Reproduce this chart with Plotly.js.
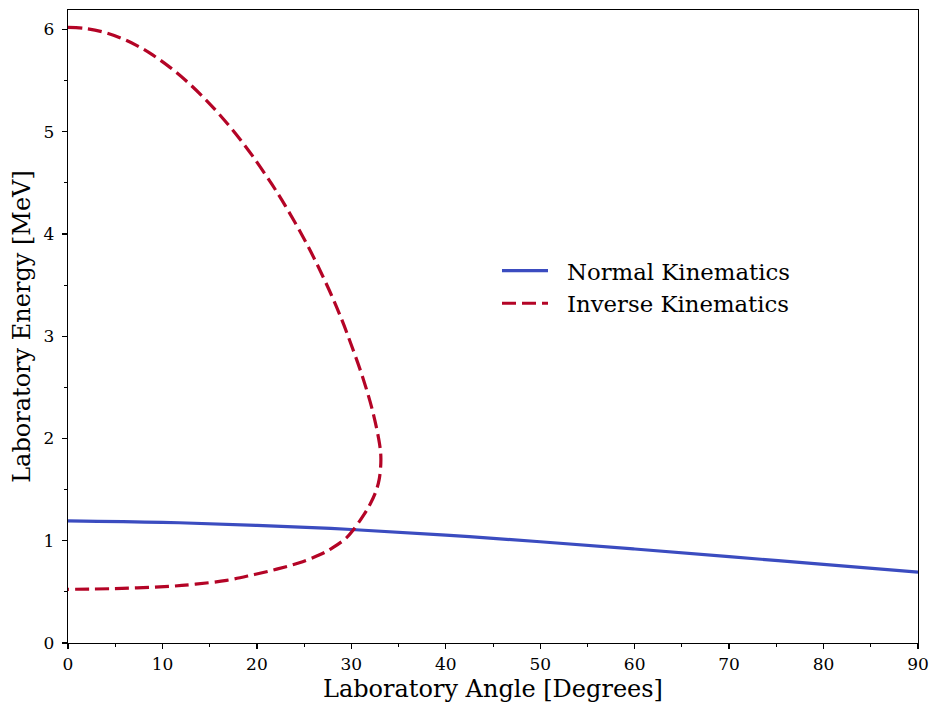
<!DOCTYPE html>
<html>
<head>
<meta charset="utf-8">
<script src="https://cdn.plot.ly/plotly-3.0.1.min.js"></script>
<style>html,body{margin:0;padding:0;background:#fff;}#chart{width:934px;height:709px;}</style>
</head>
<body>
<div id="chart"></div>
<script>
const normalAngle = [0, 10, 20, 30, 40, 50, 60, 70, 80, 90];
const normalEnergy = [1.195, 1.18, 1.15, 1.11, 1.055, 0.99, 0.919, 0.845, 0.768, 0.693];

const inverseAngle = [0, 1.8, 3.7, 5.5, 7.3, 9.0, 10.8, 12.5, 14.3, 16.0, 17.9, 19.5, 21.6, 23.0, 24.8, 26.2, 27.7, 29.0, 30.0, 31.16, 32.22, 32.98, 33.13, 32.95, 32.55, 32.0, 31.3, 30.2, 29.5, 28.0, 26.7, 24.5, 22.1, 19.5, 16.8, 13.5, 10.8, 5.0, 0];
const inverseEnergy = [6.02, 6.009, 5.975, 5.919, 5.842, 5.748, 5.629, 5.498, 5.34, 5.172, 4.963, 4.768, 4.484, 4.277, 3.985, 3.736, 3.442, 3.159, 2.914, 2.61, 2.28, 1.95, 1.80, 1.60, 1.47, 1.36, 1.25, 1.105, 1.03, 0.93, 0.865, 0.785, 0.722, 0.665, 0.613, 0.575, 0.554, 0.532, 0.525];

const xTicks = [0, 10, 20, 30, 40, 50, 60, 70, 80, 90];
const yTicks = [0, 1, 2, 3, 4, 5, 6];

const font = 'DejaVu Serif, serif';

const traces = [
  {x: normalAngle, y: normalEnergy, mode: 'lines', name: 'Normal Kinematics',
   line: {color: '#3b4cc0', width: 3.2, shape: 'spline'}},
  {x: inverseAngle, y: inverseEnergy, mode: 'lines', name: 'Inverse Kinematics',
   line: {color: '#b40426', width: 3.2, dash: '14px,6px', shape: 'spline', smoothing: 1}}
];

const axisCommon = {
  showline: true, mirror: true, linecolor: '#000', linewidth: 1.3,
  showgrid: false, zeroline: false,
  ticks: 'outside', ticklen: 5, tickwidth: 1.3, tickcolor: '#000',
  tickfont: {family: font, size: 17, color: '#000'}
};

const layout = {
  width: 934, height: 709,
  margin: {l: 68, r: 16, t: 10, b: 66},
  paper_bgcolor: '#fff', plot_bgcolor: '#fff',
  font: {family: font, color: '#000'},
  showlegend: true,
  legend: {x: 0.5047, y: 0.622, xanchor: 'left', yanchor: 'top', bgcolor: 'rgba(0,0,0,0)',
           itemwidth: 60,
           font: {family: font, size: 22.8, color: '#000'}, tracegroupgap: 0},
  xaxis: Object.assign({}, axisCommon, {
    range: [0, 90], tickvals: xTicks, ticktext: xTicks.map(String),
    minor: {dtick: 5, ticks: 'outside', ticklen: 3, tickwidth: 1, tickcolor: '#000'},
    title: {text: 'Laboratory Angle [Degrees]', font: {family: font, size: 24, color: '#000'}, standoff: 7}
  }),
  yaxis: Object.assign({}, axisCommon, {
    range: [0, 6.19], tickvals: yTicks, ticktext: yTicks.map(String),
    ticklabelstandoff: 4,
    minor: {dtick: 0.5, ticks: 'outside', ticklen: 3, tickwidth: 1, tickcolor: '#000'},
    title: {text: 'Laboratory Energy [MeV]', font: {family: font, size: 24, color: '#000'}, standoff: 6}
  })
};

Plotly.newPlot('chart', traces, layout, {displayModeBar: false, staticPlot: true}).then(function () {
  document.querySelectorAll('#chart .legendlines path').forEach(function (p) {
    p.setAttribute('d', 'M5,0h46');
  });
});
</script>
</body>
</html>
